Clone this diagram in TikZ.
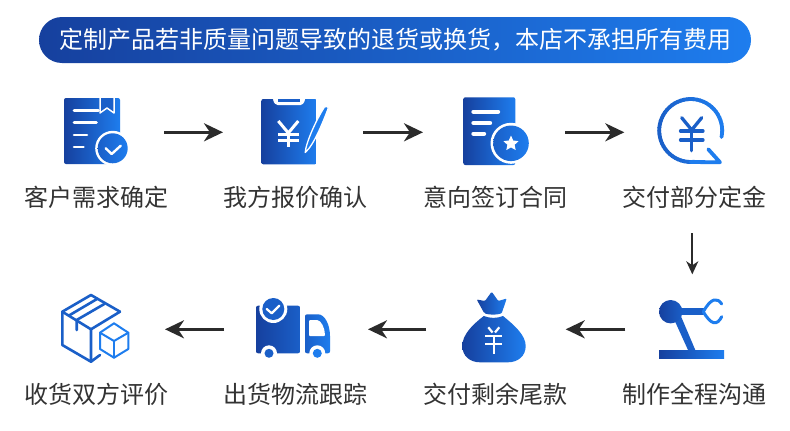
\documentclass[tikz,border=0pt]{standalone}
\usepackage{fontspec}
\usepackage{tikz}
\usetikzlibrary{arrows.meta,shapes.geometric}
\newfontfamily\cnfont{Noto Sans CJK SC}
\definecolor{icondark}{HTML}{16409E}
\definecolor{iconlight}{HTML}{1E7DEE}
\definecolor{iconmid}{HTML}{1A5FC8}
\definecolor{arrowgray}{HTML}{2B2B2B}
\definecolor{labelgray}{HTML}{333333}

\begin{document}
\begin{tikzpicture}[x=1pt,y=-1pt,
		stepbox/.style={minimum height=110pt,inner sep=0pt,outer sep=0pt},
		steplabel/.style={font=\fontsize{24}{24}\cnfont,text=labelgray,inner sep=0pt,outer sep=0pt,minimum height=72pt},
		flowarrow/.style={draw=arrowgray,line width=2.8pt,-{Stealth[length=19pt,width=18pt,inset=6pt]}},
		downarrow/.style={draw=arrowgray,line width=1.7pt,-{Stealth[length=13pt,width=12pt,inset=4pt]}},
		iconfill/.style={left color=icondark,right color=iconlight,draw=none},
		whiteline/.style={draw=white,line cap=round,line join=round},
		blueline/.style={line cap=round,line join=round,line width=2.6pt}]
		\fill[white] (0,0) rectangle (790,431);
		\useasboundingbox (0,0) rectangle (790,431);
		\path[iconfill,rounded corners=23pt] (39,17) rectangle (751,63);
		\node[font=\fontsize{24}{24}\cnfont,text=white,inner sep=0pt] (title) at (395.5,40) {定制产品若非质量问题导致的退货或换货，本店不承担所有费用};
		\node[stepbox,minimum width=136pt] (iconneed) at (96,132.3) {};
		\node[stepbox,minimum width=140pt] (iconquote) at (293,132.3) {};
		\node[stepbox,minimum width=142pt] (iconsign) at (494,132.3) {};
		\node[stepbox,minimum width=136pt] (icondeposit) at (692.3,132.3) {};
		\node[stepbox,minimum width=134pt] (iconarm) at (692.3,329.3) {};
		\node[stepbox,minimum width=139.7pt] (iconbag) at (495.85,329.3) {};
		\node[stepbox,minimum width=144pt] (icontruck) at (296,329.3) {};
		\node[stepbox,minimum width=137pt] (iconparcel) at (96.5,329.3) {};
		\node[steplabel] (labelneed) at (96.5,197) {客户需求确定};
		\node[steplabel] (labelquote) at (295,197) {我方报价确认};
		\node[steplabel] (labelsign) at (495,197) {意向签订合同};
		\node[steplabel] (labeldeposit) at (694,197) {交付部分定金};
		\node[steplabel] (labelarm) at (694,394) {制作全程沟通};
		\node[steplabel] (labelbag) at (495,394) {交付剩余尾款};
		\node[steplabel] (labeltruck) at (295,394) {出货物流跟踪};
		\node[steplabel] (labelparcel) at (96.5,394) {收货双方评价};
		\draw[flowarrow] (iconneed) -- (iconquote);
		\draw[flowarrow] (iconquote) -- (iconsign);
		\draw[flowarrow] (iconsign) -- (icondeposit);
		\draw[downarrow] (iconarm.north |- labeldeposit.south) -- (iconarm);
		\draw[flowarrow] (iconarm) -- (iconbag);
		\draw[flowarrow] (iconbag) -- (icontruck);
		\draw[flowarrow] (icontruck) -- (iconparcel);
		\path[iconfill,rounded corners=2pt] (64,98) rectangle (120,164);
		\draw[whiteline,line width=1.5pt,fill=iconmid] (100,97) -- (100,113) -- (107,108) -- (114,113) -- (114,97);
		\fill[white] (99,96) rectangle (115,98);
		\draw[whiteline,line width=2.6pt] (74,110.5) -- (98.5,110.5);
		\draw[whiteline,line width=2.6pt] (74,122.7) -- (96.5,122.7);
		\draw[whiteline,line width=2.6pt] (74,135) -- (87,135);
		\draw[whiteline,line width=2.6pt] (74,147) -- (83.5,147);
		\fill[white] (112.7,148.3) circle (17.5);
		\path[left color=iconmid,right color=iconlight] (112.7,148.3) circle (15);
		\draw[whiteline,line width=2.4pt] (105.7,148.3) -- (111.7,154) -- (120.7,145.7);
		\path[iconfill,rounded corners=2pt] (261.3,99) rectangle (316.7,164.3);
		\fill[white,rounded corners=1.5pt] (273,98) -- (305,98) -- (305,101) -- (302,105) -- (276,105) -- (273,101) -- cycle;
		\fill[iconmid] (278,99) rectangle (300,101.5);
		\draw[whiteline,line width=3pt,line cap=butt] (278.3,121) -- (288.3,133) -- (298.3,121);
		\draw[whiteline,line width=3pt,line cap=butt] (288.3,133) -- (288.3,146.7);
		\draw[whiteline,line width=2.8pt,line cap=butt] (278.3,134.3) -- (299.3,134.3);
		\draw[whiteline,line width=2.8pt,line cap=butt] (278.3,140.5) -- (299.3,140.5);
		\draw[white,line width=1.3pt,fill=iconlight,line join=round] (305.2,152.5) .. controls (306,143) and (315,122) .. (324.3,107.2) .. controls (325.5,105) and (329,106.5) .. (328,109) .. controls (323,122) and (314,145) .. (305.2,152.5) -- cycle;
		\path[iconfill,rounded corners=2pt] (463.3,97.3) rectangle (515.3,165);
		\draw[whiteline,line width=4.4pt] (473.5,111.7) -- (498,111.7);
		\draw[whiteline,line width=4.4pt] (473.5,123) -- (490,123);
		\draw[whiteline,line width=4.4pt] (473.5,133.7) -- (484,133.7);
		\fill[white] (511,143.3) circle (20.5);
		\path[left color=iconmid,right color=iconlight] (511,143.3) circle (17.8);
		\node[star,star points=5,star point ratio=2.1,fill=white,inner sep=0pt,minimum size=16pt] (signstar) at (511,143.6) {};
		\foreach \a in {12,6,...,-270} {
			\pgfmathtruncatemacro{\mixval}{50+50*cos(\a)}
			\draw[blueline,line width=3.8pt,color=iconlight!\mixval!iconmid] ({690.7+31.5*cos(\a)},{130.5+31.5*sin(\a)}) arc[start angle=\a,delta angle=-7,radius=31.5];
		}
		\draw[blueline,line width=3.8pt,iconlight] (690.7,162) -- (720,162.3) -- (708.3,149.3);
		\draw[blueline,line width=3.3pt,iconmid] (681.7,117.7) -- (691.7,130) -- (701.7,117.7);
		\draw[blueline,line width=3.3pt,iconmid] (680.5,131) -- (703,131);
		\draw[blueline,line width=3.3pt,iconmid] (680.5,140) -- (703,140);
		\draw[blueline,line width=3.3pt,iconmid] (691.7,130) -- (691.7,150.7);
		\path[iconfill] (659,350) rectangle (724,358.7);
		\fill[iconmid] (673,317) -- (680,314) -- (695.3,350) -- (688,350) -- cycle;
		\fill[iconmid] (680,308.2) rectangle (704,315.2);
		\path[left color=icondark,right color=iconmid] (670.7,311.7) circle (11.7);
		\draw[blueline,line width=3pt,iconlight] (721.7,304) .. controls (717,297) and (711,298) .. (703.3,311.7) .. controls (711,325) and (717,326) .. (721.7,316.7);
		\path[iconfill] (483.8,316) .. controls (472,325) and (462.3,335) .. (462.3,346) .. controls (462.3,356) and (470,362.3) .. (480,362.3) -- (508,362.3) .. controls (518,362.3) and (525.7,356) .. (525.7,346) .. controls (525.7,335) and (514,325) .. (503,316) .. controls (497,318.5) and (490,318.5) .. (483.8,316) -- cycle;
		\path[iconfill,rounded corners=1pt] (484.3,313.3) -- (476.7,299.5) -- (485,301) -- (491.7,291.7) -- (498.3,301) -- (506.7,298.5) -- (501.7,313.3) .. controls (496,315) and (490,315) .. (484.3,313.3) -- cycle;
		\draw[whiteline,line width=2.2pt,line cap=butt] (488.3,327.3) -- (492.5,332.5);
		\draw[whiteline,line width=2.2pt,line cap=butt] (499.3,327.3) -- (495,332.5);
		\draw[whiteline,line width=2.2pt,line cap=butt] (485,335.7) -- (502.3,335.7);
		\draw[whiteline,line width=2.2pt,line cap=butt] (485,344) -- (502.3,344);
		\draw[whiteline,line width=2.2pt,line cap=butt] (493.7,335) -- (493.7,354);
		\path[left color=icondark,right color=iconmid,rounded corners=2pt] (256,305.7) -- (300,305.7) -- (300,353.3) -- (256,353.3) -- cycle;
		\path[left color=iconmid,right color=iconlight,rounded corners=2pt] (305,314.3) -- (316,314.3) .. controls (325,314.3) and (330,325) .. (330,338) -- (330,353.3) -- (305,353.3) -- cycle;
		\fill[white,rounded corners=1pt] (309,320) -- (316,320) .. controls (321,320) and (325,328) .. (325,336) -- (309,336) -- cycle;
		\fill[white] (269,353.3) circle (8);
		\fill[white] (317.3,353.3) circle (8);
		\fill[iconmid] (269,353.3) circle (4.5);
		\fill[iconlight] (317.3,353.3) circle (4.5);
		\fill[white] (273.3,309) circle (14);
		\fill[iconmid] (273.3,309) circle (11);
		\draw[whiteline,line width=2.2pt] (266.7,309) -- (271.7,313.3) -- (279.3,305.7);
		\draw[blueline,iconmid] (120,311.7) -- (91,295) -- (62.3,311.7) -- (62.3,345) -- (91,361.7);
		\draw[blueline,iconmid] (62.3,311.7) -- (91,329.3) -- (120,311.7);
		\draw[blueline,iconmid] (91,329.3) -- (91,361.7) -- (100,355);
		\draw[blueline,iconmid] (104.3,304) -- (76.7,320) -- (76.7,330);
		\draw[blueline,iconmid] (69,315.5) -- (97,299);
		\draw[blueline,line width=2pt,iconlight] (114,323.3) -- (128.3,332.7) -- (128.3,349) -- (114,357.7) -- (100,349) -- (100,332.7) -- cycle;
		\draw[blueline,line width=2pt,iconlight] (100,332.7) -- (114,341) -- (128.3,332.7);
		\draw[blueline,line width=2pt,iconlight] (114,341) -- (114,357.7);
	\end{tikzpicture}
\end{document}
